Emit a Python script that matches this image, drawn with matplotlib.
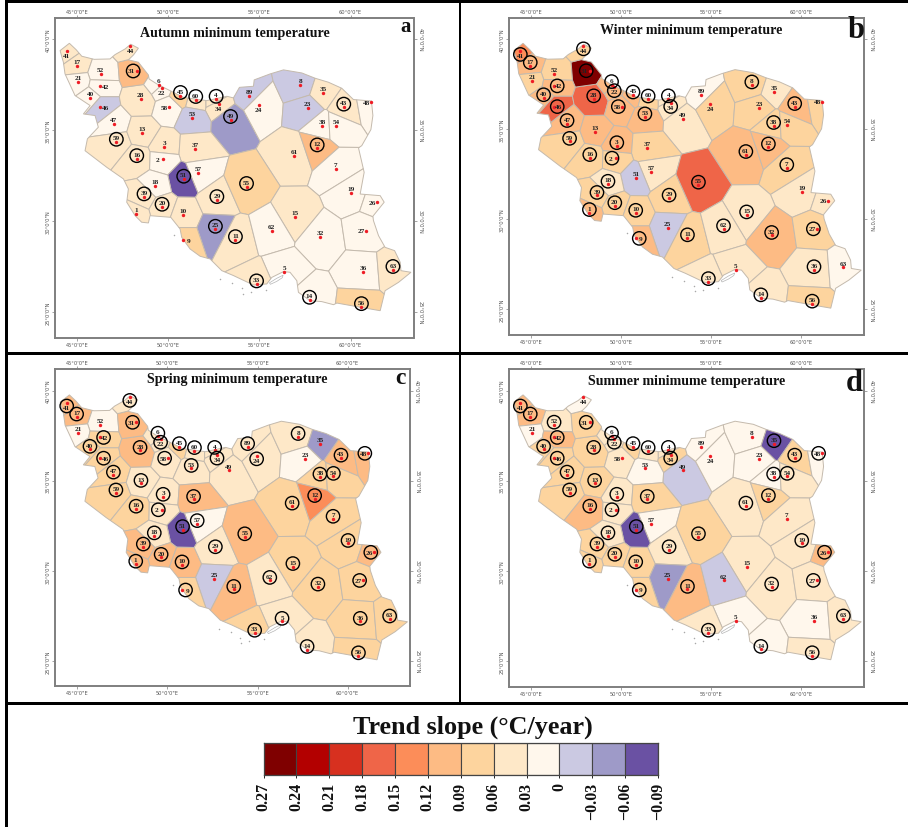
import numpy as np
import matplotlib
matplotlib.use("Agg")
import matplotlib.pyplot as plt
from matplotlib.patches import Polygon, Circle, Rectangle

SERIF = "Liberation Serif"

stations = [41,17,52,21,42,40,46,47,59,13,28,31,44,6,22,58,45,60,4,34,53,49,89,24,8,35,43,48,23,38,54,61,12,7,19,26,3,37,2,16,57,51,18,39,20,1,10,29,55,25,11,9,15,62,32,27,36,63,5,33,14,56]
lon = [44.41,44.96,46.28,45.05,46.26,45.70,46.26,47.00,47.14,48.53,48.48,48.26,47.91,49.47,49.62,50.04,50.66,51.50,52.62,52.75,51.32,53.41,54.45,54.95,57.25,58.48,59.63,61.15,57.64,58.46,59.21,56.92,58.17,59.19,60.02,61.48,49.76,51.45,49.69,48.26,51.65,50.84,49.27,48.66,49.65,48.24,50.81,52.66,54.29,52.58,53.68,50.81,56.96,55.68,58.35,60.86,60.70,62.33,56.36,54.84,57.75,60.60]
lat = [39.32,38.53,38.08,37.66,37.40,36.74,36.25,35.31,34.32,34.85,36.68,38.24,39.63,37.47,37.31,36.25,36.89,36.67,36.68,36.43,35.68,35.57,36.89,36.39,37.45,37.05,36.25,36.52,36.19,35.20,35.24,33.59,34.01,32.86,31.52,31.03,34.08,33.96,33.39,33.42,32.62,32.29,31.94,31.32,30.75,30.37,30.33,31.17,31.89,29.54,28.97,28.94,30.24,29.47,29.10,29.47,27.20,27.33,27.20,26.54,25.64,25.29]

slope_autumn = [.045,.045,.015,.015,.015,.015,-.015,.015,.045,.045,.045,.105,.045,.015,.015,.015,.075,.045,.045,.045,-.015,-.045,-.015,.015,-.015,.045,.045,.015,-.015,.015,.015,.045,.105,.015,.015,.015,.045,.045,.015,.045,.015,-.075,.015,.045,.045,.045,.045,.045,.075,-.045,.045,.075,.045,.015,.015,.015,.015,.045,.015,.045,.015,.075]
slope_winter = [.135,.105,.075,.075,.105,.105,.165,.105,.075,.105,.165,.255,.075,.105,.105,.105,.105,.075,.045,.045,.105,.045,.015,.075,.075,.045,.105,.075,.075,.075,.075,.105,.105,.075,.045,.045,.105,.075,.075,.075,.045,-.015,.045,.075,.075,.105,.075,.075,.165,-.015,.075,.105,.045,.045,.105,.075,.045,.015,.045,.045,.045,.075]
slope_spring = [.105,.105,.015,.015,.075,.075,.075,.075,.075,.045,.105,.105,.045,.045,.045,.045,.075,.045,.045,.045,.045,.045,.045,.045,.045,-.045,.105,.105,.015,.075,.075,.075,.135,.075,.075,.105,.045,.105,.045,.075,.015,-.075,.045,.105,.105,.105,.105,.045,.105,-.015,.105,.075,.075,.045,.075,.075,.075,.075,.045,.075,.045,.075]
slope_summer = [.105,.105,.045,.015,.105,.075,.075,.075,.075,.075,.075,.075,.015,.045,.045,.045,.075,.045,.045,.075,.015,-.015,.015,.015,.015,-.075,.075,.015,.015,.015,.045,.045,.075,.045,.045,.105,.045,.075,.045,.105,.015,-.075,.045,.075,.075,.075,.075,.045,.075,-.045,.105,.075,.045,-.015,.045,.045,.015,.045,.015,.045,.015,.045]

sig_autumn = [45,60,4,59,16,31,49,51,39,20,29,55,25,11,12,43,33,14,56,63]
sig_winter = [41,17,42,40,46,47,59,28,31,44,6,22,58,45,60,4,34,53,8,43,38,61,12,7,3,2,16,18,39,20,1,10,29,55,11,9,15,62,32,27,36,33,14,56]
sig_spring = [41,17,42,40,46,47,59,13,28,31,44,6,22,58,45,60,4,34,53,89,24,8,43,48,38,54,61,12,7,19,26,3,37,2,16,57,51,18,39,20,1,10,29,55,11,9,15,62,32,27,36,63,5,33,14,56]
sig_summer = [41,17,52,42,40,46,47,59,13,28,31,6,22,45,60,4,34,35,43,48,38,54,61,12,19,26,3,37,2,16,51,18,39,20,1,10,29,55,11,9,32,27,63,33,14,56]

border_lon = [44.05,44.56,44.93,45.24,45.92,46.79,47.07,47.62,47.93,48.35,48.08,47.80,48.35,48.90,48.94,49.36,49.73,50.82,52.11,53.21,53.57,53.90,54.67,54.71,55.59,56.32,57.33,58.06,58.79,59.52,60.16,61.15,61.23,61.12,60.62,60.44,60.75,60.53,61.63,61.85,61.23,61.26,61.54,61.90,62.42,62.73,62.77,63.32,62.64,61.90,61.63,60.53,59.25,59.07,58.42,57.78,57.14,57.05,56.68,56.32,55.68,55.40,54.67,53.57,52.93,52.29,51.74,51.19,50.73,50.64,50.13,48.99,48.90,48.53,48.17,47.71,47.80,47.53,46.61,45.42,45.55,46.15,45.97,45.33,45.70,44.87,44.32,44.23]
border_lat = [39.36,39.76,39.41,39.05,38.88,38.90,39.14,39.45,39.71,39.49,39.12,38.85,38.72,38.02,37.80,37.53,37.34,36.79,36.61,36.85,36.76,37.34,37.40,37.75,38.08,38.30,38.13,37.84,37.62,37.29,36.67,36.59,35.79,35.02,34.14,34.01,32.67,31.48,31.39,31.03,30.26,30.02,29.19,28.55,28.37,27.73,27.27,27.18,26.63,26.17,25.07,25.26,25.49,25.40,25.57,25.62,26.08,26.72,27.18,27.22,26.90,26.54,26.48,27.00,27.27,27.91,28.06,28.46,29.10,29.56,30.20,30.29,29.89,29.93,30.29,31.03,31.76,32.31,32.95,33.86,34.51,35.15,35.79,35.88,36.34,36.89,38.08,38.72]

qeshm_lon = [55.55,55.95,56.30,56.25,55.95,55.60]
qeshm_lat = [26.60,26.85,27.02,26.88,26.68,26.52]
islet_lon = [50.30,52.85,53.50,54.05,54.10,54.55,55.35]
islet_lat = [29.22,26.80,26.60,26.30,26.00,26.10,26.20]

class_edges = [.27,.24,.21,.18,.15,.12,.09,.06,.03,0,-.03,-.06,-.09]
class_colors = ["#7f0000","#b30000","#d7301f","#ef6548","#fc8d59","#fdbb84","#fdd49e","#fee8c8","#fff7ec","#cbc9e2","#9e9ac8","#6a51a3"]
edge_labels = ["0.27","0.24","0.21","0.18","0.15","0.12","0.09","0.06","0.03","0","\u22120.03","\u22120.06","\u22120.09"]

lon_ticks = [45,50,55,60]
lat_ticks = [40,35,30,25]

LABEL_BELOW = {41,44,22,34,24}
LABEL_LEFT = {31,58,2,26,27,48}
LABEL_RIGHT = {42,46,9}

W, H = 908, 828
fig = plt.figure(figsize=(W/100, H/100), dpi=100, facecolor="white")

def px_axes(x0, y0, x1, y1, **kw):
    return fig.add_axes([x0/W, 1-y1/H, (x1-x0)/W, (y1-y0)/H], **kw)

def colour_for(v):
    for k in range(len(class_colors)):
        if class_edges[k+1] <= v < class_edges[k]:
            return class_colors[k]
    return class_colors[-1]

def clip_half(poly, a, b):
    """keep the part of poly closer to a than to b"""
    n = b - a
    c = np.dot(n, (a + b) / 2)
    out = []
    for i in range(len(poly)):
        p, q = poly[i], poly[(i+1) % len(poly)]
        dp, dq = np.dot(n, p) - c, np.dot(n, q) - c
        if dp <= 0:
            out.append(p)
        if dp * dq < 0:
            out.append(p + (q - p) * dp / (dp - dq))
    return np.array(out)

pts = np.column_stack([lon, lat])
box = np.array([[40., 20.], [66., 20.], [66., 44.], [40., 44.]])
cells = []
for i, a in enumerate(pts):
    poly = box.copy()
    for j, b in enumerate(pts):
        if i != j and len(poly):
            poly = clip_half(poly, a, b)
    cells.append(poly)

EDGE = "#c4baad"
GREY = "#7f7f7f"

def draw_map(box_px, extent, slopes, sig):
    ax = px_axes(*box_px)
    ax.set_xlim(extent[0], extent[1])
    ax.set_ylim(extent[2], extent[3])
    outline = Polygon(np.column_stack([border_lon, border_lat]), closed=True, fc="none", ec=EDGE, lw=0.7, zorder=3)
    ax.add_patch(outline)
    for cell, v in zip(cells, slopes):
        p = Polygon(cell, closed=True, fc=colour_for(v), ec=EDGE, lw=0.7, zorder=2)
        ax.add_patch(p)
        p.set_clip_path(outline)
    ax.add_patch(Polygon(np.column_stack([qeshm_lon, qeshm_lat]), closed=True, fc="white", ec="#b5b5b5", lw=0.5, zorder=3))
    ax.scatter(islet_lon, islet_lat, s=1.2, c="#a8a8a8", linewidths=0, zorder=3)
    ax.scatter(lon, lat, s=6, c="#ee1c25", linewidths=0, zorder=5)
    for s, x, y in zip(stations, lon, lat):
        if s in LABEL_BELOW:
            dx, dy = 0.0, -0.25
        elif s in LABEL_LEFT:
            dx, dy = -0.28, 0.0
        elif s in LABEL_RIGHT:
            dx, dy = 0.28, 0.0
        else:
            dx, dy = 0.0, 0.24
        ax.text(x+dx, y+dy, str(s), fontsize=5.2, family=SERIF, fontweight="bold",
                ha="center", va="center", color="#222222", zorder=6)
        if s in sig:
            ax.add_patch(Circle((x+dx*0.7, y+dy*0.7), 0.37, fc="none", ec="black", lw=1.0, zorder=7))
    for side in ("top", "bottom", "left", "right"):
        ax.spines[side].set_color(GREY)
        ax.spines[side].set_linewidth(1.4)
    ax.set_xticks(lon_ticks)
    ax.set_yticks(lat_ticks)
    ax.set_xticklabels([f"{v}\u00b00'0\"E" for v in lon_ticks])
    ax.set_yticklabels([f"{v}\u00b00'0\"N" for v in lat_ticks], rotation=90, va="center")
    ax.tick_params(axis="both", length=2, width=0.5, color=GREY, labelsize=3.7, labelcolor="#555555", pad=1.0,
                   top=True, right=True, labeltop=True, labelright=True)
    for tick in ax.yaxis.get_major_ticks():
        tick.label2.set_rotation(270)
        tick.label2.set_va("center")
    return ax

slopes_all = [slope_autumn, slope_winter, slope_spring, slope_summer]
sig_all = [sig_autumn, sig_winter, sig_spring, sig_summer]
boxes = [(55,19,413.5,339),(509,19,864.3,336),(55,370.3,410,687.3),(509,370.3,864.3,688.3)]
extents = [(43.77,63.46,23.57,41.15),(43.78,63.49,23.58,41.165),(43.76,63.46,23.60,41.18),(43.78,63.49,23.54,41.18)]
for b, e, sl, sg in zip(boxes, extents, slopes_all, sig_all):
    draw_map(b, e, sl, sg)

# overlay for titles, panel letters and the black panel rules
ov = fig.add_axes([0, 0, 1, 1], zorder=10)
ov.set_xlim(0, W); ov.set_ylim(H, 0); ov.axis("off"); ov.patch.set_alpha(0)

titles = ["Autumn minimum temperature","Winter minimum temperature","Spring minimum temperature","Summer minimume temperature"]
title_xy = [(235,33.5),(691,30.5),(237,380),(687,381.5)]
letters = ["a","b","c","d"]
letter_xy = [(406,27,15),(856,31,22),(400,379,17),(854,384,22)]
for t, (x, y) in zip(titles, title_xy):
    ov.text(x, y, t, family=SERIF, fontweight="bold", fontsize=10.1, ha="center", va="center", color="#111111")
for l, (x, y, s) in zip(letters, letter_xy):
    ov.text(x, y, l, family=SERIF, fontweight="bold", fontsize=s, ha="center", va="center", color="#111111")

for (x0, y0, x1, y1) in [(5,1,908,3.5),(5,352.5,908,355.5),(5,702.5,908,705.5),(5,1,7.5,828),(458.5,1,461,705.5)]:
    ov.add_patch(Rectangle((x0, y0), x1-x0, y1-y0, fc="black", ec="none"))

ov.text(473, 727, "Trend slope (\u00b0C/year)", family=SERIF, fontweight="bold", fontsize=18.8, ha="center", va="center", color="#111111")

# colour key
cb = px_axes(263.5, 744, 658, 776)
pos = np.arange(len(class_colors))
cb.bar(pos, 1, width=1, align="edge", color=class_colors, edgecolor="#444444", linewidth=0.8)
cb.set_xlim(0, len(class_colors)); cb.set_ylim(0, 1)
cb.set_yticks([])
cb.set_xticks(np.arange(len(edge_labels)))
cb.set_xticklabels(edge_labels, rotation=90, family=SERIF, fontweight="bold", fontsize=11.5, color="#111111", va="top")
cb.tick_params(axis="x", length=2, width=0.6, pad=3)
for sp in cb.spines.values():
    sp.set_color("#444444"); sp.set_linewidth(0.9)

fig.savefig("out.png", dpi=100, facecolor="white")
